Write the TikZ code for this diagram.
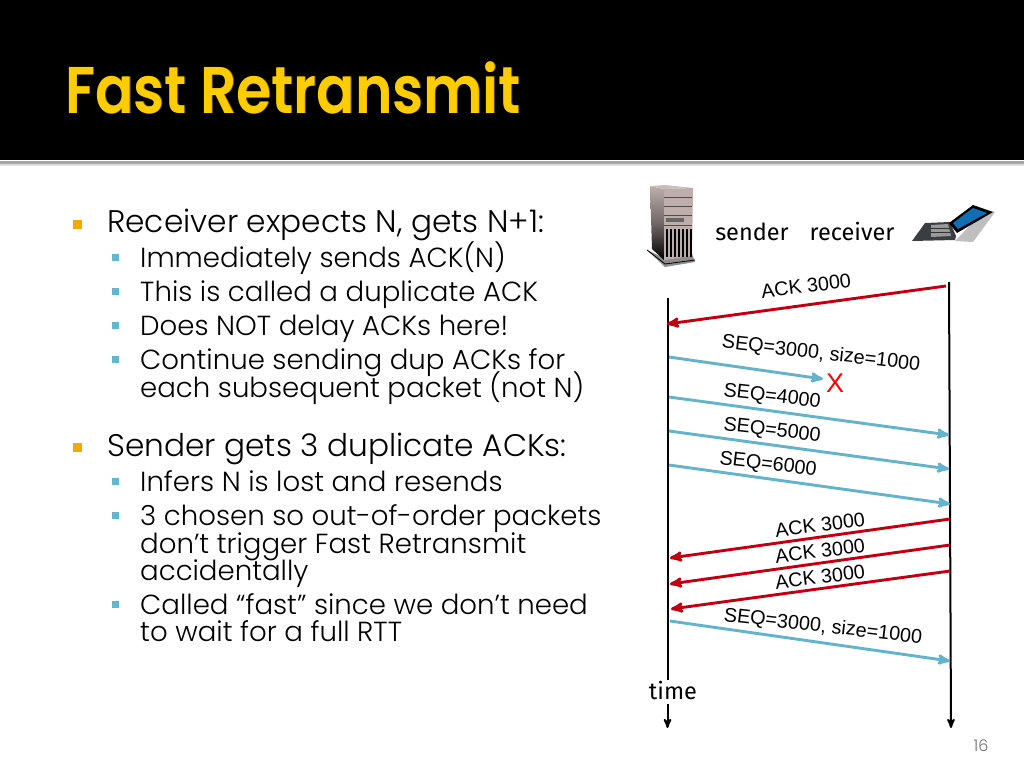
\documentclass[tikz,border=0pt]{standalone}
\usepackage{fontspec}
\setmainfont{Poppins Light}
\newfontfamily\titlefont{Poppins SemiBold}
\newfontfamily\arrowfont{Liberation Sans}
\newfontfamily\handfont{Fira Sans}
\usetikzlibrary{arrows,positioning}
\definecolor{gold}{HTML}{FFCC00}
\definecolor{bulletorange}{HTML}{EFAB00}
\definecolor{bulletteal}{HTML}{5FB8D0}
\definecolor{seqblue}{HTML}{62B3CB}
\definecolor{ackred}{HTML}{C00010}
\definecolor{casing}{HTML}{BDAEAC}
\definecolor{screenblue}{HTML}{0F6FB5}
\tikzset{
	>=stealth', % same tip on every arrow
	headline/.style={anchor=base west, inner sep=0pt, font=\fontsize{31.2}{31.2}\selectfont},
	subline/.style={anchor=base west, inner sep=0pt, font=\fontsize{27.6}{27.6}\selectfont},
	mainbullet/.style={fill=bulletorange, minimum size=9pt, inner sep=0pt},
	subbullet/.style={fill=bulletteal, minimum size=7pt, inner sep=0pt},
	titletext/.style={anchor=base west, inner sep=0pt, xscale=0.86, transform shape, font=\titlefont\fontsize{66}{66}\selectfont},
	lifeline/.style={->, line width=2pt, black},
	seq/.style={->, line width=2.9pt, seqblue},
	ack/.style={->, line width=2.9pt, ackred},
	seqlabel/.style={font=\arrowfont\fontsize{19.8}{19.8}\selectfont, rotate=-6.5, inner sep=0pt},
	acklabel/.style={font=\arrowfont\fontsize{19.8}{19.8}\selectfont, rotate=7, inner sep=0pt},
	hand/.style={anchor=base, font=\handfont\fontsize{23.5}{23.5}\selectfont, inner sep=0pt},
}
\begin{document}
\begin{tikzpicture}[x=1pt,y=-1pt]
	\useasboundingbox (0,0) rectangle (1024,768);
	% header band
	\fill[black] (0,0) rectangle (1024,160);
	\fill[gray!70] (0,161) rectangle (1024,164);
	\fill[gray!25] (0,164) rectangle (1024,166);
	\node[titletext, text=black!60!gold] (titleshadow) at (65.8,113.8) {Fast Retransmit};
	\node[titletext, text=gold] (title) at (65,113) {Fast Retransmit};

	% text column
	\node[mainbullet] (b1) at (77,224) {};
	\node[headline] (h1) at (107,232) {Receiver expects N, gets N+1:};
	\node[subbullet] (b2) at (115,257) {};
	\node[subline] (s1) at (140,267) {Immediately sends ACK(N)};
	\node[subbullet] (b3) at (115,291) {};
	\node[subline] (s2) at (140,301) {This is called a duplicate ACK};
	\node[subbullet] (b4) at (115,325) {};
	\node[subline] (s3) at (140,335) {Does NOT delay ACKs here!};
	\node[subbullet] (b5) at (115,359) {};
	\node[subline] (s4) at (140,369) {Continue sending dup ACKs for};
	\node[subline] (s5) at (140,397) {each subsequent packet (not N)};
	\node[mainbullet] (b6) at (77,447) {};
	\node[headline] (h2) at (107,456) {Sender gets 3 duplicate ACKs:};
	\node[subbullet] (b7) at (115,481) {};
	\node[subline] (s6) at (140,491) {Infers N is lost and resends};
	\node[subbullet] (b8) at (115,515) {};
	\node[subline] (s7) at (140,525) {3 chosen so out-of-order packets};
	\node[subline] (s8) at (140,553) {don’t trigger Fast Retransmit};
	\node[subline] (s9) at (140,580) {accidentally};
	\node[subbullet] (b9) at (115,604) {};
	\node[subline] (s10) at (140,614) {Called “fast” since we don’t need};
	\node[subline] (s11) at (140,641) {to wait for a full RTT};
	\node[anchor=center, inner sep=0pt, text=black!55, font=\fontsize{16}{16}\selectfont] (page) at (981,746) {16};

	% server
	\fill[black!45] (647,250) -- (665,267) -- (695,262) -- (692,254) -- (664,258) -- cycle;
	\draw[black, line width=0.8pt] (647,250) -- (665,264) -- (695,260);
	\shade[top color=casing, bottom color=black, middle color=casing!60!black] (650,186) -- (664,189) -- (664,260) -- (652,249) -- cycle;
	\fill[casing!80!white] (650,186) -- (665,185) -- (693,188) -- (664,189) -- cycle;
	\fill[casing] (664,189) -- (693,188) -- (692,256) -- (664,260) -- cycle;
	\foreach \y in {197,206,215,225} \draw[black!70, line width=0.7pt] (664,\y) -- (692,\y);
	\fill[black!60] (666,218) rectangle (684,222);
	\foreach \x in {667,671,...,691} \draw[black, line width=1.6pt] (\x,229) -- (\x,257);
	% laptop
	\fill[black!25] (955,241) -- (973,242) -- (995,212) -- (985,210) -- cycle;
	\fill[black!85!cyan] (912,241) -- (925,223) -- (950,222) -- (956,236) -- (955,240) -- cycle;
	\fill[black!40] (931,225) -- (948,224) -- (951,236) -- (931,237) -- cycle;
	\foreach \y in {228,232} \draw[black!80, line width=0.7pt] (931,\y) -- (950,\y);
	\fill[black] (949,223) -- (973,205) -- (993,212) -- (957,233) -- cycle;
	\fill[screenblue] (953,223) -- (973,208) -- (987,213) -- (958,229) -- cycle;

	\node[hand] (sender) at (752,240) {sender};
	\node[hand] (receiver) at (852,240) {receiver};
	\node[hand] (time) at (673,699) {time};

	% lifelines
	\coordinate (senderTop) at (667.5,298);
	\coordinate (senderEnd) at (667.5,728);
	\coordinate (receiverTop) at (949,282);
	\coordinate (receiverEnd) at (951,728);
	\draw[line width=2pt] (senderTop) -- (time.north -| senderTop);
	\draw[lifeline] (time.south -| senderTop) ++(0,5) -- (senderEnd);
	\draw[lifeline] (receiverTop) -- (receiverEnd);

	% first ack
	\coordinate (a0) at (946,286);
	\coordinate (a1) at (667,324);
	\draw[ack] (a0) -- (a1);
	\node[acklabel] (lack0) at (806,286) {ACK 3000};

	% data packets
	\coordinate (s0) at (669,357);
	\coordinate (e0) at (823,379);
	\draw[seq] (s0) -- (e0);
	\node[seqlabel] (lseq0) at (821,354) {SEQ=3000, size=1000};
	\node[text=red, font=\arrowfont\fontsize{27}{27}\selectfont, inner sep=0pt] (lost) at (835,383) {X};
	\coordinate (s1a) at (669,397);
	\coordinate (e1a) at (949,435);
	\draw[seq] (s1a) -- (e1a);
	\node[seqlabel] (lseq1) at (772,397) {SEQ=4000};
	\coordinate (s2a) at (669,431);
	\coordinate (e2a) at (949,469);
	\draw[seq] (s2a) -- (e2a);
	\node[seqlabel] (lseq2) at (772,431) {SEQ=5000};
	\coordinate (s3a) at (669,465);
	\coordinate (e3a) at (950,504);
	\draw[seq] (s3a) -- (e3a);
	\node[seqlabel] (lseq3) at (768,465) {SEQ=6000};

	% duplicate acks
	\coordinate (a1s) at (950,519);
	\coordinate (a1e) at (670,558);
	\draw[ack] (a1s) -- (a1e);
	\node[acklabel] (lack1) at (820,525) {ACK 3000};
	\coordinate (a2s) at (950,545);
	\coordinate (a2e) at (670,584);
	\draw[ack] (a2s) -- (a2e);
	\node[acklabel] (lack2) at (820,551) {ACK 3000};
	\coordinate (a3s) at (950,571);
	\coordinate (a3e) at (671,609);
	\draw[ack] (a3s) -- (a3e);
	\node[acklabel] (lack3) at (820,577) {ACK 3000};

	% resend
	\coordinate (s4a) at (670,621);
	\coordinate (e4a) at (950,661);
	\draw[seq] (s4a) -- (e4a);
	\node[seqlabel] (lseq4) at (823,627) {SEQ=3000, size=1000};
\end{tikzpicture}
\end{document}
